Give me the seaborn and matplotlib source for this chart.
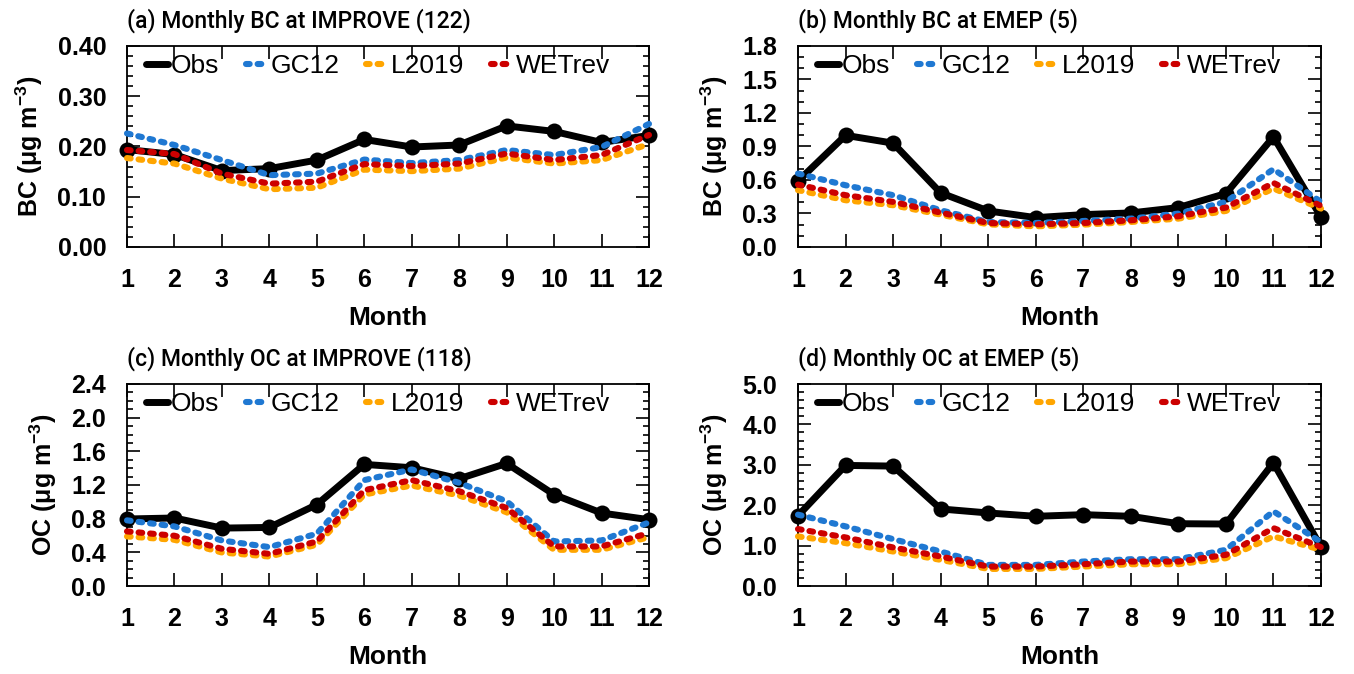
import matplotlib
matplotlib.use("Agg")
import matplotlib.pyplot as plt
import numpy as np
import pandas as pd
import seaborn as sns
from matplotlib.lines import Line2D
from matplotlib.ticker import MultipleLocator, FormatStrFormatter

# ---------------- data ----------------
months = list(range(1, 13))
series_names = ["Obs", "GC12", "L2019", "WETrev"]

bc_improve_obs = [0.194, 0.184, 0.152, 0.156, 0.173, 0.214, 0.199, 0.203, 0.241, 0.230, 0.208, 0.222]
bc_improve_gc12 = [0.226, 0.203, 0.173, 0.143, 0.146, 0.174, 0.167, 0.173, 0.193, 0.183, 0.199, 0.245]
bc_improve_l2019 = [0.177, 0.166, 0.136, 0.115, 0.118, 0.154, 0.151, 0.156, 0.178, 0.166, 0.173, 0.205]
bc_improve_wetrev = [0.193, 0.185, 0.146, 0.126, 0.130, 0.165, 0.161, 0.166, 0.186, 0.173, 0.183, 0.223]

bc_emep_obs = [0.59, 1.00, 0.93, 0.485, 0.323, 0.263, 0.29, 0.305, 0.353, 0.479, 0.987, 0.269]
bc_emep_gc12 = [0.658, 0.553, 0.464, 0.329, 0.224, 0.215, 0.233, 0.254, 0.299, 0.404, 0.697, 0.404]
bc_emep_l2019 = [0.509, 0.419, 0.374, 0.29, 0.203, 0.185, 0.20, 0.224, 0.254, 0.323, 0.524, 0.344]
bc_emep_wetrev = [0.559, 0.464, 0.404, 0.308, 0.215, 0.203, 0.215, 0.239, 0.275, 0.353, 0.574, 0.368]

oc_improve_obs = [0.796, 0.808, 0.688, 0.696, 0.967, 1.445, 1.405, 1.274, 1.457, 1.086, 0.867, 0.788]
oc_improve_gc12 = [0.78, 0.708, 0.541, 0.462, 0.621, 1.258, 1.385, 1.226, 1.007, 0.529, 0.541, 0.756]
oc_improve_l2019 = [0.589, 0.549, 0.398, 0.35, 0.49, 1.087, 1.194, 1.075, 0.876, 0.43, 0.43, 0.581]
oc_improve_wetrev = [0.649, 0.597, 0.442, 0.382, 0.529, 1.138, 1.258, 1.126, 0.927, 0.47, 0.47, 0.629]

oc_emep_obs = [1.741, 2.985, 2.968, 1.907, 1.808, 1.725, 1.766, 1.725, 1.542, 1.534, 3.051, 0.962]
oc_emep_gc12 = [1.766, 1.476, 1.16, 0.854, 0.522, 0.522, 0.605, 0.663, 0.663, 0.896, 1.849, 1.086]
oc_emep_l2019 = [1.227, 1.061, 0.854, 0.647, 0.423, 0.423, 0.481, 0.539, 0.539, 0.688, 1.227, 0.896]
oc_emep_wetrev = [1.41, 1.202, 0.954, 0.73, 0.481, 0.481, 0.539, 0.605, 0.605, 0.771, 1.434, 0.962]

panel_titles = ["(a) Monthly BC at IMPROVE (122)", "(b) Monthly BC at EMEP (5)",
                "(c) Monthly OC at IMPROVE (118)", "(d) Monthly OC at EMEP (5)"]
panel_species = ["BC", "BC", "OC", "OC"]
panel_ymax = [0.40, 1.8, 2.4, 5.0]
panel_ymajor = [0.10, 0.3, 0.4, 1.0]
panel_yminor = [0.02, 0.1, 0.1, 0.2]
panel_fmt = ["%.2f", "%.1f", "%.1f", "%.1f"]

panel_data = [
    [bc_improve_obs, bc_improve_gc12, bc_improve_l2019, bc_improve_wetrev],
    [bc_emep_obs, bc_emep_gc12, bc_emep_l2019, bc_emep_wetrev],
    [oc_improve_obs, oc_improve_gc12, oc_improve_l2019, oc_improve_wetrev],
    [oc_emep_obs, oc_emep_gc12, oc_emep_l2019, oc_emep_wetrev],
]

# ---------------- style ----------------
sns.set_theme(style="white")
plt.rcParams["font.family"] = ["Liberation Sans", "DejaVu Sans"]
plt.rcParams["mathtext.fontset"] = "custom"
plt.rcParams["mathtext.rm"] = "Liberation Sans:bold"
plt.rcParams["mathtext.bf"] = "Liberation Sans:bold"
plt.rcParams["mathtext.default"] = "rm"
for key in ["text.color", "axes.labelcolor", "xtick.color", "ytick.color",
            "axes.edgecolor"]:
    plt.rcParams[key] = "black"

title_family = ["Roboto", "Liberation Sans", "DejaVu Sans"]

colors = {"Obs": "#000000", "GC12": "#1f78d2", "L2019": "#ffa500", "WETrev": "#cc0000"}
DASH = (0.6, 1.3)

fig = plt.figure(figsize=(13.54, 6.74), dpi=100)
W, H = 1354, 674
boxes = [(127, 46, 649, 247), (798, 46, 1321, 247),
         (127, 384, 649, 586), (798, 384, 1321, 586)]

for i, (l, t, r, b) in enumerate(boxes):
    ax = fig.add_axes([l / W, 1 - b / H, (r - l) / W, (b - t) / H])
    data = panel_data[i]
    for name, vals in zip(series_names, data):
        df = pd.DataFrame({"Month": months, "value": vals})
        if name == "Obs":
            sns.lineplot(data=df, x="Month", y="value", ax=ax, color=colors[name],
                         lw=5.0, marker="o", markersize=11.5, markeredgewidth=0,
                         solid_capstyle="round", solid_joinstyle="round",
                         clip_on=False, errorbar=None, legend=False, zorder=3)
        else:
            sns.lineplot(data=df, x="Month", y="value", ax=ax, color=colors[name],
                         lw=4.4, linestyle=(0, DASH), dash_capstyle="round",
                         dash_joinstyle="round", clip_on=False, errorbar=None,
                         legend=False, zorder=4)

    ax.set_xlim(1, 12)
    ax.set_ylim(0, panel_ymax[i])
    ax.set_xticks(months)
    ax.yaxis.set_major_locator(MultipleLocator(panel_ymajor[i]))
    ax.yaxis.set_minor_locator(MultipleLocator(panel_yminor[i]))
    ax.yaxis.set_major_formatter(FormatStrFormatter(panel_fmt[i]))
    ax.tick_params(which="both", direction="in", top=True, right=True,
                   left=True, bottom=True, color="black", width=1.2)
    ax.tick_params(which="major", length=9.5, pad=15, labelsize=18)
    ax.tick_params(which="minor", length=4.5)
    for lab in ax.get_xticklabels() + ax.get_yticklabels():
        lab.set_fontweight("bold")
    for sp in ax.spines.values():
        sp.set_color("black")
        sp.set_linewidth(1.3)

    ax.set_xlabel("Month", fontsize=19, fontweight="bold", labelpad=10)
    ax.set_ylabel(panel_species[i] + r" ($\mu$g m$^{-3}$)", fontsize=18,
                  fontweight="bold", labelpad=9)
    ax.set_title(panel_titles[i], loc="left", fontsize=16.5,
                 fontweight="medium", family=title_family, pad=13)

    handles = [
        Line2D([], [], color=colors["Obs"], lw=5.0, solid_capstyle="round"),
        Line2D([], [], color=colors["GC12"], lw=4.4, linestyle=(0, DASH), dash_capstyle="round"),
        Line2D([], [], color=colors["L2019"], lw=4.4, linestyle=(0, DASH), dash_capstyle="round"),
        Line2D([], [], color=colors["WETrev"], lw=4.4, linestyle=(0, DASH), dash_capstyle="round"),
    ]
    ax.legend(handles=handles, labels=series_names, ncol=4, loc="center left",
              bbox_to_anchor=(0.036, 0.9), frameon=False, fontsize=19,
              handlelength=0.85, handletextpad=0.1, columnspacing=1.0,
              borderpad=0, borderaxespad=0)

fig.savefig("out.png", dpi=100)
